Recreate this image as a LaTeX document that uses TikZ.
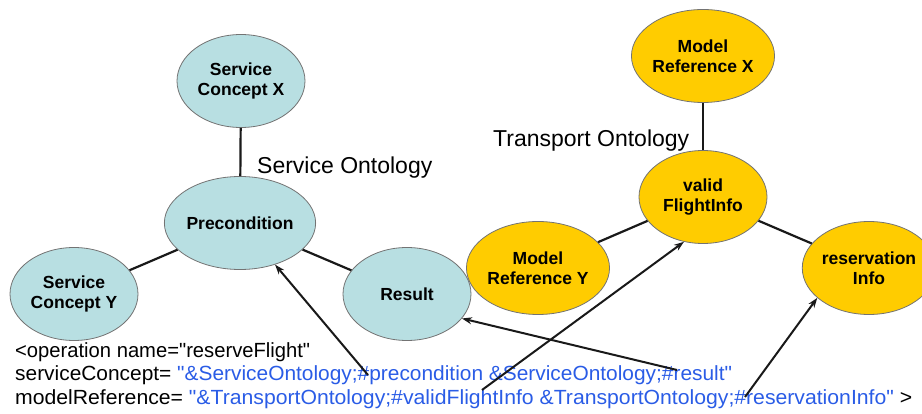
\documentclass[tikz,border=0pt]{standalone}
\usepackage{fontspec}
\setmainfont{Liberation Sans}[Ligatures=TeXOff]
\usetikzlibrary{shapes.geometric,arrows.meta}
\definecolor{tealfill}{HTML}{B8DFE2}
\definecolor{goldfill}{HTML}{FFCC00}
\definecolor{codeblue}{HTML}{2A5CE6}
\tikzset{
  concept/.style={ellipse, draw=black!55, line width=0.8pt, minimum width=128pt, minimum height=93pt, inner sep=0pt, align=center, font=\fontsize{17.5}{20}\selectfont\bfseries},
  svc/.style={concept, fill=tealfill},
  mdl/.style={concept, fill=goldfill},
  link/.style={line width=2.2pt, black!90},
  ref/.style={line width=2pt, black!90, -{Stealth[length=10pt,width=7pt]}},
  ontlabel/.style={anchor=base west, inner sep=0pt, font=\fontsize{23}{26}\selectfont},
  codeline/.style={anchor=base west, inner sep=0pt, font=\fontsize{20.5}{23}\selectfont}
}
\begin{document}
\begin{tikzpicture}[x=1pt,y=-1pt]
\useasboundingbox (0,0) rectangle (922,414);
\clip (0,0) rectangle (922,414);
% Service ontology
\node[svc] (scx) at (241,81) {Service\\Concept X};
\node[svc] (prec) at (240,223) {Precondition};
\node[svc] (scy) at (74,294) {Service\\Concept Y};
\node[svc] (res) at (407,294) {Result};
\draw[link] (prec) -- (scx);
\draw[link] (prec) -- (scy);
\draw[link] (prec) -- (res);
\node[ontlabel] (slabel) at (257,174) {Service Ontology};
% Transport ontology
\node[mdl] (mrx) at (703,56) {Model\\Reference X};
\node[mdl] (vfi) at (703,197) {valid\\FlightInfo};
\node[mdl] (mry) at (538,268) {Model\\Reference Y};
\node[mdl] (ri) at (869,268) {reservation\\Info};
\draw[link] (vfi) -- (mrx);
\draw[link] (vfi) -- (mry);
\draw[link] (vfi) -- (ri);
\node[ontlabel] (tlabel) at (493,147) {Transport Ontology};
% WSDL-S code
\node[codeline] (l1) at (15,358) {\resizebox{295pt}{\height}{<operation name="reserveFlight"}};
\node[codeline] (l2) at (15,381) {\resizebox{717pt}{\height}{serviceConcept= \textcolor{codeblue}{"\&ServiceOntology;\#precondition \&ServiceOntology;\#result"}}};
\node[codeline] (l3) at (15,404) {\resizebox{897pt}{\height}{modelReference= \textcolor{codeblue}{"\&TransportOntology;\#validFlightInfo \&TransportOntology;\#reservationInfo"} >}};
% reference arrows
\coordinate (a1) at (368,375);
\coordinate (a2) at (677,370);
\coordinate (a3) at (482,390);
\coordinate (a4) at (745,397);
\draw[ref] (a1) -- (prec);
\draw[ref] (a2) -- (res.-24);
\draw[ref] (a3) -- (vfi.247);
\draw[ref] (a4) -- (ri.210);
\end{tikzpicture}
\end{document}
